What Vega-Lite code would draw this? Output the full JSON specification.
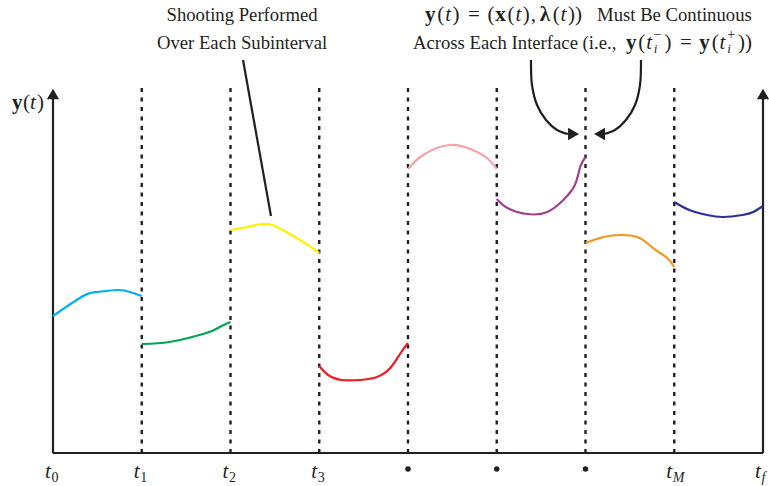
{
  "$schema": "https://vega.github.io/schema/vega-lite/v6.json",
  "width": 710,
  "height": 453,
  "autosize": "none",
  "padding": {"left": 53, "top": 0, "right": 6, "bottom": 33},
  "config": {"view": {"stroke": null}, "text": {"font": "Liberation Serif", "color": "#231F20"}},
  "datasets": {
    "curves": [
      {"seg": "s1", "x": 0.0, "y": 13.7}, {"seg": "s1", "x": 0.338, "y": 15.7}, {"seg": "s1", "x": 0.496, "y": 16.1}, {"seg": "s1", "x": 0.721, "y": 16.3}, {"seg": "s1", "x": 0.868, "y": 16.1}, {"seg": "s1", "x": 1.0, "y": 15.7},
      {"seg": "s2", "x": 1.0, "y": 10.9}, {"seg": "s2", "x": 1.31, "y": 11.1}, {"seg": "s2", "x": 1.61, "y": 11.7}, {"seg": "s2", "x": 1.79, "y": 12.2}, {"seg": "s2", "x": 1.9, "y": 12.7}, {"seg": "s2", "x": 2.0, "y": 13.1},
      {"seg": "s3", "x": 2.0, "y": 22.3}, {"seg": "s3", "x": 2.19, "y": 22.6}, {"seg": "s3", "x": 2.35, "y": 22.9}, {"seg": "s3", "x": 2.47, "y": 22.8}, {"seg": "s3", "x": 2.59, "y": 22.3}, {"seg": "s3", "x": 2.82, "y": 21.1}, {"seg": "s3", "x": 3.0, "y": 20.0},
      {"seg": "s4", "x": 3.0, "y": 8.7}, {"seg": "s4", "x": 3.1, "y": 7.8}, {"seg": "s4", "x": 3.25, "y": 7.3}, {"seg": "s4", "x": 3.46, "y": 7.3}, {"seg": "s4", "x": 3.65, "y": 7.6}, {"seg": "s4", "x": 3.8, "y": 8.5}, {"seg": "s4", "x": 3.91, "y": 9.9}, {"seg": "s4", "x": 4.0, "y": 11.0},
      {"seg": "s5", "x": 4.0, "y": 28.4}, {"seg": "s5", "x": 4.17, "y": 29.8}, {"seg": "s5", "x": 4.47, "y": 30.8}, {"seg": "s5", "x": 4.73, "y": 30.3}, {"seg": "s5", "x": 4.89, "y": 29.5}, {"seg": "s5", "x": 5.0, "y": 28.4},
      {"seg": "s6", "x": 5.0, "y": 25.4}, {"seg": "s6", "x": 5.12, "y": 24.5}, {"seg": "s6", "x": 5.34, "y": 23.9}, {"seg": "s6", "x": 5.57, "y": 24.1}, {"seg": "s6", "x": 5.75, "y": 25.3}, {"seg": "s6", "x": 5.88, "y": 26.8}, {"seg": "s6", "x": 5.94, "y": 28.6}, {"seg": "s6", "x": 6.0, "y": 29.6},
      {"seg": "s7", "x": 6.0, "y": 21.0}, {"seg": "s7", "x": 6.2, "y": 21.6}, {"seg": "s7", "x": 6.41, "y": 21.8}, {"seg": "s7", "x": 6.61, "y": 21.5}, {"seg": "s7", "x": 6.76, "y": 20.5}, {"seg": "s7", "x": 6.92, "y": 19.5}, {"seg": "s7", "x": 7.0, "y": 18.6},
      {"seg": "s8", "x": 7.0, "y": 25.1}, {"seg": "s8", "x": 7.17, "y": 24.3}, {"seg": "s8", "x": 7.37, "y": 23.8}, {"seg": "s8", "x": 7.55, "y": 23.6}, {"seg": "s8", "x": 7.77, "y": 23.8}, {"seg": "s8", "x": 7.89, "y": 24.1}, {"seg": "s8", "x": 8.0, "y": 24.7}
    ],
    "interfaces": [
      {"x": 1, "y": 0, "y2": 36.6}, {"x": 2, "y": 0, "y2": 36.6}, {"x": 3, "y": 0, "y2": 36.6}, {"x": 4, "y": 0, "y2": 36.6},
      {"x": 5, "y": 0, "y2": 36.6}, {"x": 6, "y": 0, "y2": 36.6}, {"x": 7, "y": 0, "y2": 36.6}
    ],
    "frame": [
      {"x": 0, "y": 0, "x2": 0, "y2": 35.4},
      {"x": 0, "y": 0, "x2": 8, "y2": 0},
      {"x": 8, "y": 0, "x2": 8, "y2": 35.4},
      {"x": 2.141, "y": 39.3, "x2": 2.456, "y2": 23.7}
    ],
    "axisHeads": [{"x": 0, "y": 35.9}, {"x": 8, "y": 35.9}],
    "arrows": [
      {"a": "L", "i": 0, "x": 5.386, "y": 39.3}, {"a": "L", "i": 1, "x": 5.397, "y": 36.8}, {"a": "L", "i": 2, "x": 5.454, "y": 34.8}, {"a": "L", "i": 3, "x": 5.555, "y": 33.3}, {"a": "L", "i": 4, "x": 5.679, "y": 32.3}, {"a": "L", "i": 5, "x": 5.803, "y": 31.9},
      {"a": "R", "i": 0, "x": 6.625, "y": 39.3}, {"a": "R", "i": 1, "x": 6.614, "y": 36.8}, {"a": "R", "i": 2, "x": 6.558, "y": 34.8}, {"a": "R", "i": 3, "x": 6.456, "y": 33.3}, {"a": "R", "i": 4, "x": 6.332, "y": 32.3}, {"a": "R", "i": 5, "x": 6.208, "y": 31.9}
    ],
    "headRight": [{"x": 5.865, "y": 31.9}],
    "headLeft": [{"x": 6.158, "y": 31.9}],
    "tickT": [{"x": 0, "y": -2.5}, {"x": 1, "y": -2.5}, {"x": 2, "y": -2.5}, {"x": 3, "y": -2.5}, {"x": 7, "y": -2.5}, {"x": 8, "y": -2.5}],
    "subDigits": [{"x": 0, "y": -2.9, "t": "0"}, {"x": 1, "y": -2.9, "t": "1"}, {"x": 2, "y": -2.9, "t": "2"}, {"x": 3, "y": -2.9, "t": "3"}],
    "subLetters": [{"x": 7, "y": -2.9, "t": "M"}, {"x": 8, "y": -2.9, "t": "f"}],
    "dots": [{"x": 4, "y": -1.6}, {"x": 5, "y": -1.6}, {"x": 6, "y": -1.6}],
    "titleLeft": [{"x": 2.13, "y": 43.8, "t": "Shooting Performed"}, {"x": 2.13, "y": 41.0, "t": "Over Each Subinterval"}],
    "mathBold": [
      {"x": 4.191, "y": 43.8, "t": "y"}, {"x": 4.984, "y": 43.8, "t": "x"}, {"x": 5.484, "y": 43.8, "t": "λ"},
      {"x": 6.456, "y": 41.0, "t": "y"}, {"x": 7.283, "y": 41.0, "t": "y"},
      {"x": -0.462, "y": 35.0, "t": "y"}
    ],
    "mathItalic": [
      {"x": 4.419, "y": 43.8, "t": "t"}, {"x": 5.211, "y": 43.8, "t": "t"}, {"x": 5.719, "y": 43.8, "t": "t"},
      {"x": 6.684, "y": 41.0, "t": "t"}, {"x": 7.511, "y": 41.0, "t": "t"},
      {"x": -0.259, "y": 35.0, "t": "t"}
    ],
    "mathRoman": [
      {"x": 4.33, "y": 43.8, "t": "("}, {"x": 4.501, "y": 43.8, "t": ")"}, {"x": 4.895, "y": 43.8, "t": "("},
      {"x": 5.122, "y": 43.8, "t": "("}, {"x": 5.294, "y": 43.8, "t": ")"}, {"x": 5.383, "y": 43.8, "t": ","}, {"x": 5.63, "y": 43.8, "t": "("}, {"x": 5.802, "y": 43.8, "t": "))"},
      {"x": 6.595, "y": 41.0, "t": "("}, {"x": 6.89, "y": 41.0, "t": ")"}, {"x": 7.422, "y": 41.0, "t": "("}, {"x": 7.717, "y": 41.0, "t": "))"},
      {"x": -0.338, "y": 35.0, "t": "("}, {"x": -0.18, "y": 35.0, "t": ")"}
    ],
    "mathEq": [{"x": 4.743, "y": 43.8, "t": "="}, {"x": 7.131, "y": 41.0, "t": "="}],
    "textLeft": [
      {"x": 6.13, "y": 43.8, "t": "Must Be Continuous"},
      {"x": 4.056, "y": 41.0, "t": "Across Each Interface (i.e.,"}
    ],
    "mathSub": [{"x": 6.77, "y": 40.4, "t": "i"}, {"x": 7.597, "y": 40.4, "t": "i"}],
    "mathSup": [{"x": 6.77, "y": 41.8, "t": "−"}, {"x": 7.597, "y": 41.8, "t": "+"}]
  },
  "encoding": {
    "x": {"field": "x", "type": "quantitative", "scale": {"domain": [0, 8], "nice": false, "zero": false}, "axis": null},
    "y": {"field": "y", "type": "quantitative", "scale": {"domain": [0, 45.3], "nice": false, "zero": false}, "axis": null}
  },
  "layer": [
    {
      "data": {"name": "interfaces"},
      "mark": {"type": "rule", "stroke": "#231F20", "strokeWidth": 2.4, "strokeDash": [4, 5.5]},
      "encoding": {"y2": {"field": "y2"}}
    },
    {
      "data": {"name": "frame"},
      "mark": {"type": "rule", "stroke": "#231F20", "strokeWidth": 2.2},
      "encoding": {"x2": {"field": "x2"}, "y2": {"field": "y2"}}
    },
    {
      "data": {"name": "axisHeads"},
      "mark": {"type": "point", "shape": "triangle-up", "filled": true, "color": "#231F20", "size": 150, "opacity": 1}
    },
    {
      "data": {"name": "curves"},
      "mark": {"type": "line", "interpolate": "natural", "strokeWidth": 2.2},
      "encoding": {
        "color": {"field": "seg", "type": "nominal", "legend": null,
          "scale": {"domain": ["s1", "s2", "s3", "s4", "s5", "s6", "s7", "s8"],
                    "range": ["#00AEEF", "#00A651", "#FFF200", "#ED1C24", "#F5A3A8", "#A0418F", "#F7941D", "#2E3192"]}}
      }
    },
    {
      "data": {"name": "arrows"},
      "mark": {"type": "line", "interpolate": "catmull-rom", "strokeWidth": 2.2, "color": "#231F20"},
      "encoding": {"detail": {"field": "a"}, "order": {"field": "i", "type": "quantitative"}}
    },
    {
      "data": {"name": "headRight"},
      "mark": {"type": "point", "shape": "triangle-right", "filled": true, "color": "#231F20", "size": 160, "opacity": 1}
    },
    {
      "data": {"name": "headLeft"},
      "mark": {"type": "point", "shape": "triangle-left", "filled": true, "color": "#231F20", "size": 160, "opacity": 1}
    },
    {
      "data": {"name": "tickT"},
      "mark": {"type": "text", "text": "t", "fontStyle": "italic", "fontSize": 21, "align": "center", "baseline": "alphabetic", "dx": -5}
    },
    {
      "data": {"name": "subDigits"},
      "mark": {"type": "text", "fontSize": 14, "align": "left", "baseline": "alphabetic", "dx": -1.5},
      "encoding": {"text": {"field": "t"}}
    },
    {
      "data": {"name": "subLetters"},
      "mark": {"type": "text", "fontSize": 14, "fontStyle": "italic", "align": "left", "baseline": "alphabetic", "dx": -1.5},
      "encoding": {"text": {"field": "t"}}
    },
    {
      "data": {"name": "dots"},
      "mark": {"type": "point", "shape": "circle", "filled": true, "color": "#231F20", "size": 30, "opacity": 1}
    },
    {
      "data": {"name": "titleLeft"},
      "mark": {"type": "text", "fontSize": 18.7, "align": "center", "baseline": "middle"},
      "encoding": {"text": {"field": "t"}}
    },
    {
      "data": {"name": "textLeft"},
      "mark": {"type": "text", "fontSize": 18.7, "align": "left", "baseline": "middle"},
      "encoding": {"text": {"field": "t"}}
    },
    {
      "data": {"name": "mathBold"},
      "mark": {"type": "text", "fontSize": 21, "fontWeight": "bold", "align": "left", "baseline": "middle"},
      "encoding": {"text": {"field": "t"}}
    },
    {
      "data": {"name": "mathItalic"},
      "mark": {"type": "text", "fontSize": 21, "fontStyle": "italic", "align": "left", "baseline": "middle"},
      "encoding": {"text": {"field": "t"}}
    },
    {
      "data": {"name": "mathRoman"},
      "mark": {"type": "text", "fontSize": 21, "align": "left", "baseline": "middle"},
      "encoding": {"text": {"field": "t"}}
    },
    {
      "data": {"name": "mathEq"},
      "mark": {"type": "text", "fontSize": 21, "align": "center", "baseline": "middle"},
      "encoding": {"text": {"field": "t"}}
    },
    {
      "data": {"name": "mathSub"},
      "mark": {"type": "text", "fontSize": 13, "fontStyle": "italic", "align": "left", "baseline": "middle"},
      "encoding": {"text": {"field": "t"}}
    },
    {
      "data": {"name": "mathSup"},
      "mark": {"type": "text", "fontSize": 14, "align": "left", "baseline": "middle"},
      "encoding": {"text": {"field": "t"}}
    }
  ]
}
